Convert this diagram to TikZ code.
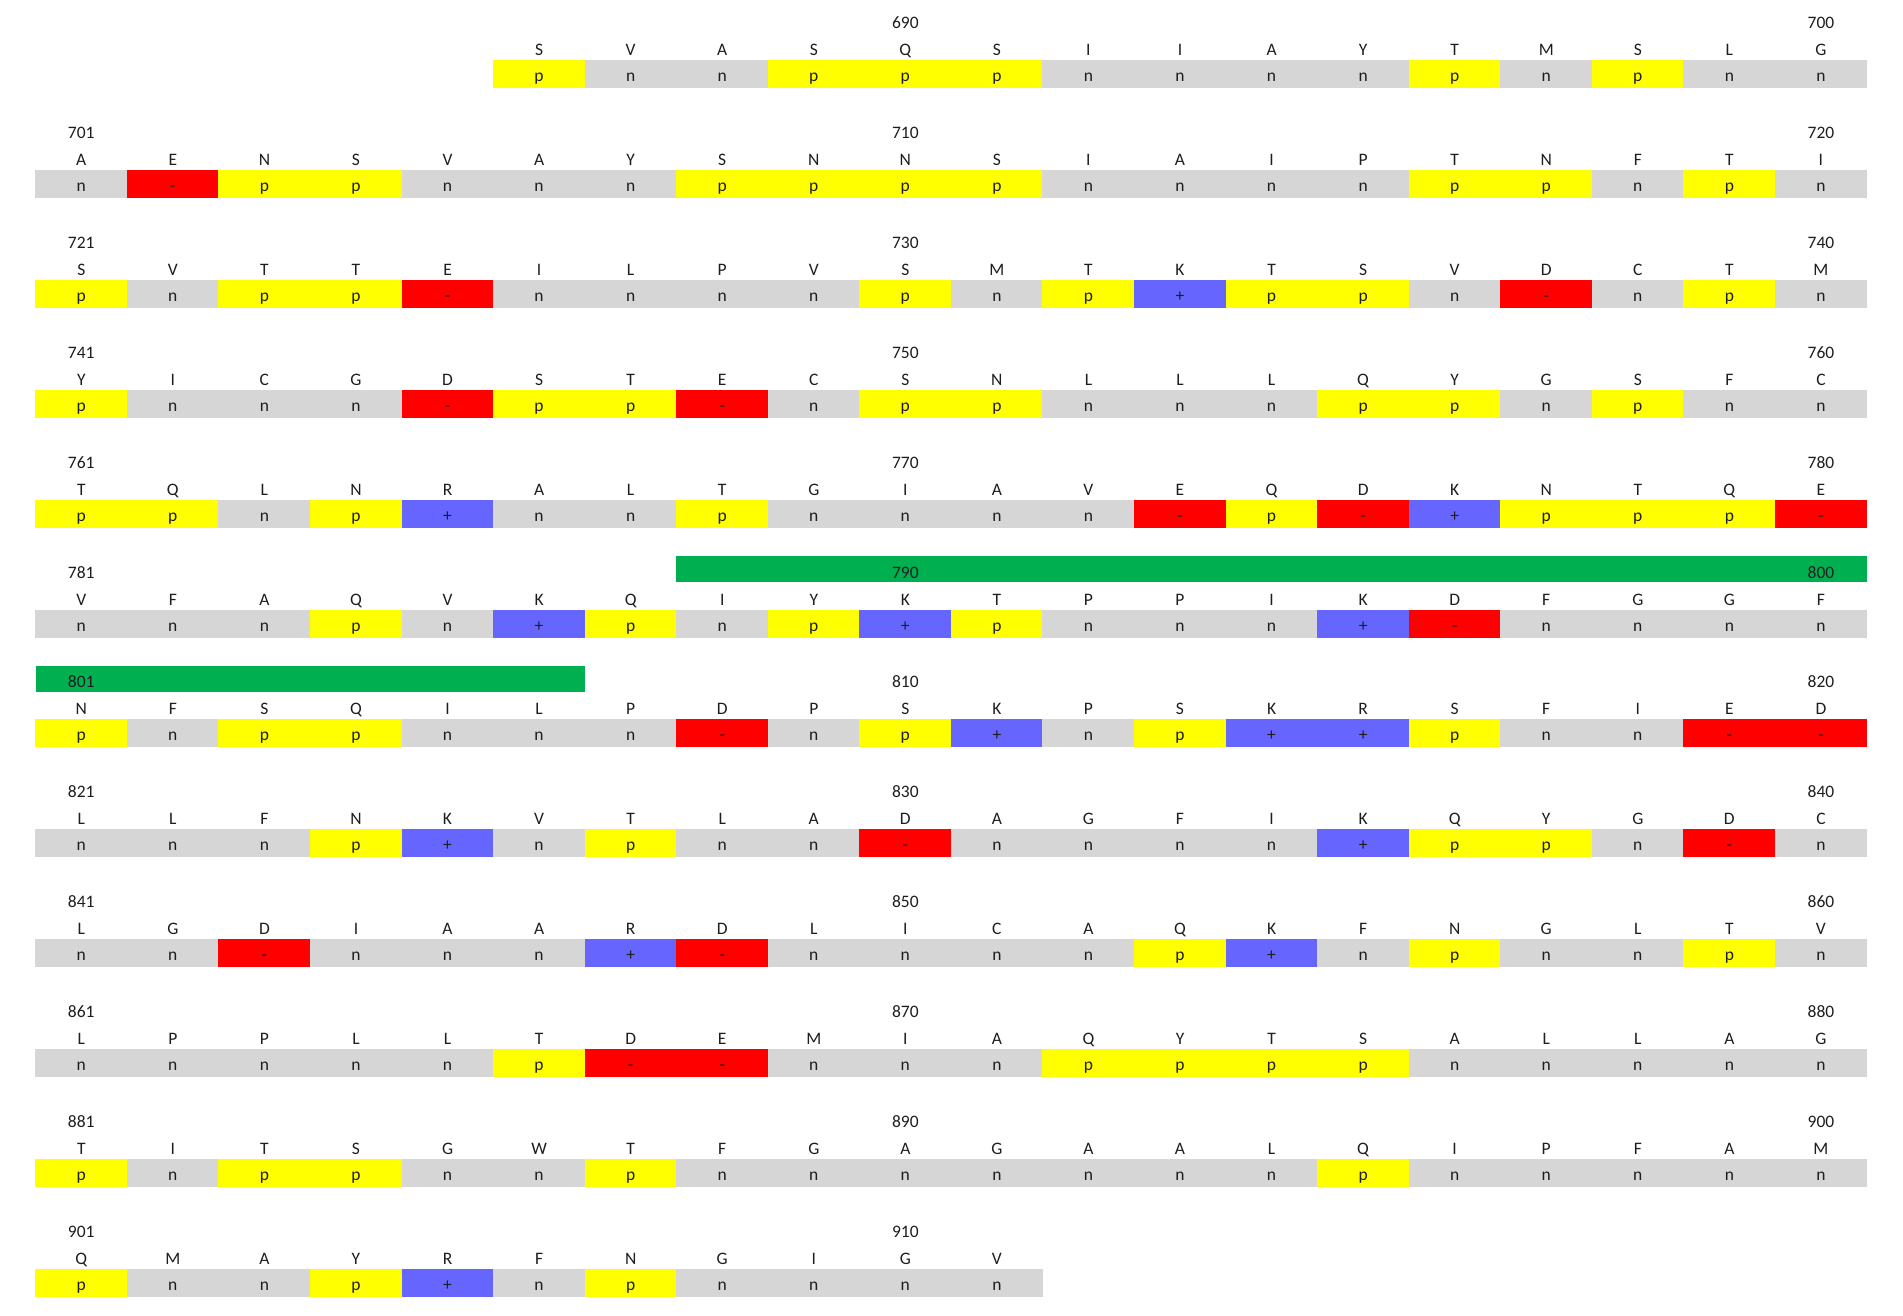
\documentclass[tikz,border=0pt]{standalone}
\usepackage{fontspec}
\setmainfont{Carlito}
\definecolor{cyel}{HTML}{FFFF00}
\definecolor{cgry}{HTML}{D6D6D6}
\definecolor{cred}{HTML}{FF0000}
\definecolor{cblu}{HTML}{6666FF}
\definecolor{cgrn}{HTML}{00B050}
\definecolor{ctxt}{HTML}{1E1E1E}
\tikzset{
  cellbase/.style={inner sep=0pt, outer sep=0pt, minimum width=92pt, minimum height=28pt,
    text height=15pt, text depth=0pt, font=\fontsize{17.5}{19}\selectfont, text=ctxt},
  cellp/.style={cellbase, fill=cyel, node contents={p}},
  celln/.style={cellbase, fill=cgry, node contents={n}},
  cellm/.style={cellbase, fill=cred, node contents={-}},
  cella/.style={cellbase, fill=cblu, node contents={+}},
  reslab/.style={anchor=base, inner sep=0pt, font=\fontsize{17.5}{19}\selectfont, text=ctxt},
  numlab/.style={anchor=base, inner sep=0pt, font=\fontsize{17.5}{19}\selectfont, text=ctxt},
  greenbar/.style={fill=cgrn, inner sep=0pt, outer sep=0pt, minimum height=25.7pt},
}
\newcommand\seqrow[3]{%
  \foreach \res/\prp [count=\i from #2] in {#3} {
    \pgfmathsetmacro\cx{35.5+(\i-0.5)*91.56}
    \pgfmathsetmacro\cy{74+#1*109.9}
    \pgfmathsetmacro\ly{55.5+#1*109.9}
    \node (c-#1-\i) at (\cx,\cy) [cell\prp];
    \node[reslab] (r-#1-\i) at (\cx,\ly) {\res};
  }%
}
\newcommand\numat[3]{%
  \pgfmathsetmacro\nx{35.5+(#2-0.5)*91.56}
  \pgfmathsetmacro\ny{28.5+#1*109.9}
  \node[numlab] (n-#3) at (\nx,\ny) {#3};
}
\begin{document}
\begin{tikzpicture}[x=1pt,y=-1pt]
\useasboundingbox[fill=white] (0,0) rectangle (1903,1316);
% green bars
\node[greenbar, minimum width=1190.3pt] (g1) at ({(676.4+1866.7)/2},{6.5+5*109.9+12.85}) {};
\node[greenbar, minimum width=549.4pt] (g2) at ({(35.5+584.9)/2},{6.5+6*109.9+12.85}) {};
% rows
\seqrow{0}{6}{S/p,V/n,A/n,S/p,Q/p,S/p,I/n,I/n,A/n,Y/n,T/p,M/n,S/p,L/n,G/n}
\seqrow{1}{1}{A/n,E/m,N/p,S/p,V/n,A/n,Y/n,S/p,N/p,N/p,S/p,I/n,A/n,I/n,P/n,T/p,N/p,F/n,T/p,I/n}
\seqrow{2}{1}{S/p,V/n,T/p,T/p,E/m,I/n,L/n,P/n,V/n,S/p,M/n,T/p,K/a,T/p,S/p,V/n,D/m,C/n,T/p,M/n}
\seqrow{3}{1}{Y/p,I/n,C/n,G/n,D/m,S/p,T/p,E/m,C/n,S/p,N/p,L/n,L/n,L/n,Q/p,Y/p,G/n,S/p,F/n,C/n}
\seqrow{4}{1}{T/p,Q/p,L/n,N/p,R/a,A/n,L/n,T/p,G/n,I/n,A/n,V/n,E/m,Q/p,D/m,K/a,N/p,T/p,Q/p,E/m}
\seqrow{5}{1}{V/n,F/n,A/n,Q/p,V/n,K/a,Q/p,I/n,Y/p,K/a,T/p,P/n,P/n,I/n,K/a,D/m,F/n,G/n,G/n,F/n}
\seqrow{6}{1}{N/p,F/n,S/p,Q/p,I/n,L/n,P/n,D/m,P/n,S/p,K/a,P/n,S/p,K/a,R/a,S/p,F/n,I/n,E/m,D/m}
\seqrow{7}{1}{L/n,L/n,F/n,N/p,K/a,V/n,T/p,L/n,A/n,D/m,A/n,G/n,F/n,I/n,K/a,Q/p,Y/p,G/n,D/m,C/n}
\seqrow{8}{1}{L/n,G/n,D/m,I/n,A/n,A/n,R/a,D/m,L/n,I/n,C/n,A/n,Q/p,K/a,F/n,N/p,G/n,L/n,T/p,V/n}
\seqrow{9}{1}{L/n,P/n,P/n,L/n,L/n,T/p,D/m,E/m,M/n,I/n,A/n,Q/p,Y/p,T/p,S/p,A/n,L/n,L/n,A/n,G/n}
\seqrow{10}{1}{T/p,I/n,T/p,S/p,G/n,W/n,T/p,F/n,G/n,A/n,G/n,A/n,A/n,L/n,Q/p,I/n,P/n,F/n,A/n,M/n}
\seqrow{11}{1}{Q/p,M/n,A/n,Y/p,R/a,F/n,N/p,G/n,I/n,G/n,V/n}
% numbers
\numat{0}{10}{690}\numat{0}{20}{700}
\numat{1}{1}{701}\numat{1}{10}{710}\numat{1}{20}{720}
\numat{2}{1}{721}\numat{2}{10}{730}\numat{2}{20}{740}
\numat{3}{1}{741}\numat{3}{10}{750}\numat{3}{20}{760}
\numat{4}{1}{761}\numat{4}{10}{770}\numat{4}{20}{780}
\numat{5}{1}{781}\numat{5}{10}{790}\numat{5}{20}{800}
\numat{6}{1}{801}\numat{6}{10}{810}\numat{6}{20}{820}
\numat{7}{1}{821}\numat{7}{10}{830}\numat{7}{20}{840}
\numat{8}{1}{841}\numat{8}{10}{850}\numat{8}{20}{860}
\numat{9}{1}{861}\numat{9}{10}{870}\numat{9}{20}{880}
\numat{10}{1}{881}\numat{10}{10}{890}\numat{10}{20}{900}
\numat{11}{1}{901}\numat{11}{10}{910}
\end{tikzpicture}
\end{document}
